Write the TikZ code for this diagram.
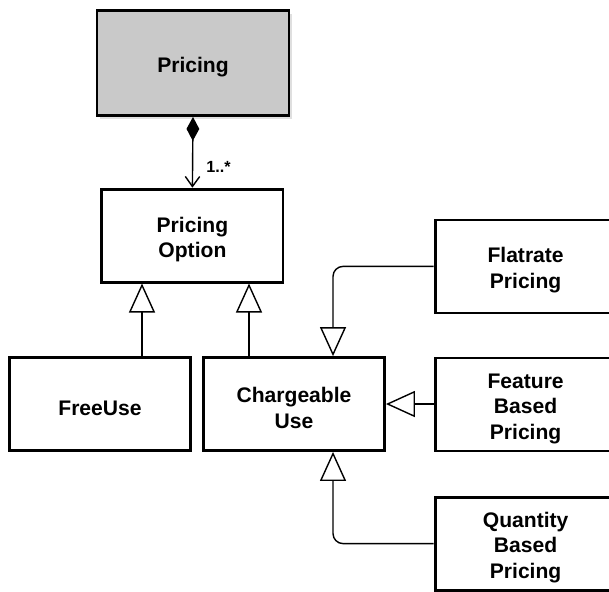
\documentclass[tikz,border=0pt]{standalone}
\usepackage{fontspec}
\setmainfont{Liberation Sans}
\usetikzlibrary{arrows.meta, shadows}
\newcommand{\classstrut}{\rule{0pt}{16.5pt}}

\begin{document}
\begin{tikzpicture}[
    class/.style={rectangle, align=center, draw=black, line width=2pt, fill=white, font=\fontsize{15}{18.3}\selectfont\bfseries, minimum width=45.25mm, minimum height=23.25mm},
    class_root/.style={class, fill=black!21, minimum width=48mm, minimum height=26.25mm, drop shadow={shadow xshift=0.8mm, shadow yshift=-0.8mm, fill=black!25}},
    inherit/.style={draw=black, line width=1pt, -{Triangle[open, length=7.25mm, width=6.5mm, line width=1pt]}},
    compose/.style={draw=black, line width=1pt, {Diamond[length=6mm, width=3.2mm]}-{Straight Barb[length=2.5mm, width=3.6mm, line width=1pt]}},
    mult/.style={font=\fontsize{11.5}{13}\selectfont\bfseries, inner sep=0pt},
]
    \useasboundingbox (0, 0) rectangle (152.25mm, -147.75mm);

    \node(pricing)[class_root] at (48.25mm, -15.75mm) {\classstrut Pricing};
    \node(option)[class] at (48.1mm, -58.9mm) {\classstrut Pricing\\ Option};

    \node(freeuse)[class] at (25mm, -101mm) {\classstrut FreeUse};
    \node(chargeable)[class] at (73.5mm, -101mm) {\classstrut Chargeable\\ Use};

    \node(flatrate)[class] at (131.4mm, -66.6mm) {\classstrut Flatrate\\ Pricing};
    \node(feature)[class] at (131.4mm, -101.1mm) {\classstrut Feature\\ Based\\ Pricing};
    \node(quantity)[class] at (131.4mm, -135.9mm) {\classstrut Quantity\\ Based\\ Pricing};

    % composition
    \draw[compose] (pricing.south) -- (option.north)
        node(mult_option)[mult, anchor=west, pos=0.7, xshift=3.3mm] {1..*};

    % generalisations
    \draw[inherit] ([xshift=10.5mm]freeuse.north) -- ([xshift=10.5mm]freeuse.north |- option.south);
    \draw[inherit] ([xshift=-11.25mm]chargeable.north) -- ([xshift=-11.25mm]chargeable.north |- option.south);
    \draw[inherit, rounded corners=2.5mm] (flatrate.west) -| ([xshift=9.75mm]chargeable.north);
    \draw[inherit] (feature.west |- chargeable.east) -- (chargeable.east);
    \draw[inherit, rounded corners=2.5mm] (quantity.west) -| ([xshift=9.75mm]chargeable.south);
\end{tikzpicture}
\end{document}
